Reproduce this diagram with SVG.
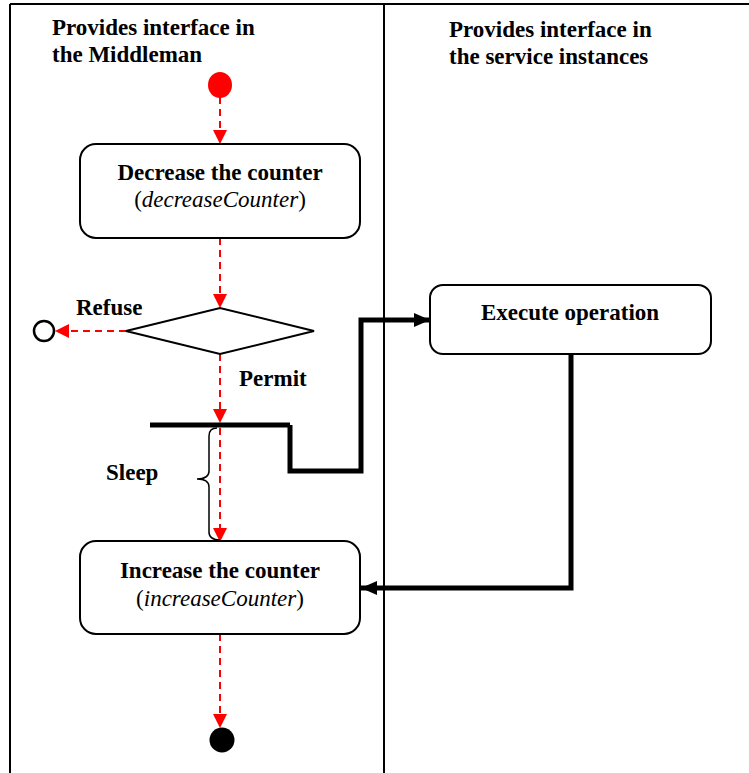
<svg xmlns="http://www.w3.org/2000/svg" width="749" height="773" viewBox="0 0 749 773">
  <style>
    .lane { stroke: #000; stroke-width: 2; fill: none; }
    .box { fill: #fff; stroke: #000; stroke-width: 2; }
    .t { font-family: "Liberation Serif", "Times New Roman", serif; font-size: 23px; fill: #000; }
    .b { font-weight: bold; }
    .i { font-style: italic; }
    .flow { stroke: #ff0000; stroke-width: 2; stroke-dasharray: 7 5; fill: none; }
    .sync { stroke: #000; stroke-width: 5; fill: none; }
  </style>
  <defs>
    <marker id="redArrow" markerWidth="14" markerHeight="14" refX="13" refY="7" orient="auto" markerUnits="userSpaceOnUse">
      <path d="M0,0 L14,7 L0,14 Z" fill="#ff0000"/>
    </marker>
    <marker id="blackArrow" markerWidth="16" markerHeight="14" refX="16" refY="7" orient="auto" markerUnits="userSpaceOnUse">
      <path d="M0,0 L16,7 L0,14 Z" fill="#000"/>
    </marker>
  </defs>

  <rect width="749" height="773" fill="#fff"/>

  <!-- swimlane frame -->
  <g id="lanes">
    <line class="lane" x1="10" y1="4" x2="749" y2="4"/>
    <line class="lane" x1="10" y1="4" x2="10" y2="773"/>
    <line class="lane" x1="384" y1="4" x2="384" y2="773"/>
    <text class="t b" x="52" y="35">Provides interface in</text>
    <text class="t b" x="52" y="62">the Middleman</text>
    <text class="t b" x="449" y="37">Provides interface in</text>
    <text class="t b" x="449" y="64">the service instances</text>
  </g>

  <!-- connectors -->
  <g id="connectors">
    <line class="flow" x1="220" y1="97" x2="220" y2="143" marker-end="url(#redArrow)"/>
    <line class="flow" x1="220" y1="238" x2="220" y2="307" marker-end="url(#redArrow)"/>
    <line class="flow" x1="126" y1="331" x2="56" y2="331" marker-end="url(#redArrow)"/>
    <line class="flow" x1="220" y1="354" x2="220" y2="422" marker-end="url(#redArrow)"/>
    <line class="flow" x1="220" y1="428" x2="220" y2="541" marker-end="url(#redArrow)"/>
    <line class="flow" x1="220" y1="634" x2="220" y2="727" marker-end="url(#redArrow)"/>
    <path class="sync" d="M290,425 L290,471 L361,471 L361,320 L430,320" marker-end="url(#blackArrow)"/>
    <path class="sync" d="M571,354 L571,588 L361,588" marker-end="url(#blackArrow)"/>
  </g>

  <g id="start">
    <ellipse cx="220" cy="85" rx="12" ry="13" fill="#ff0000"/>
  </g>

  <g id="decrease">
    <rect class="box" x="80" y="144" width="280" height="94" rx="16"/>
    <text class="t b" x="220" y="180" text-anchor="middle">Decrease the counter</text>
    <text class="t" x="220" y="207" text-anchor="middle">(<tspan class="i">decreaseCounter</tspan>)</text>
  </g>

  <g id="decision">
    <polygon points="126,331 220,308 314,331 220,354" fill="#fff" stroke="#000" stroke-width="2"/>
    <text class="t b" x="76" y="315">Refuse</text>
    <text class="t b" x="239" y="386">Permit</text>
  </g>

  <g id="refused">
    <circle cx="44" cy="331" r="10" fill="#fff" stroke="#000" stroke-width="2.5"/>
  </g>

  <g id="fork">
    <line class="sync" x1="150" y1="425" x2="290" y2="425" stroke-width="6"/>
    <path d="M217,428 Q209,428 209,436 L209,471 Q209,479 197,479 Q209,479 209,487 L209,532 Q209,540 220,540" fill="none" stroke="#000" stroke-width="1.5"/>
    <text class="t b" x="106" y="480">Sleep</text>
  </g>

  <g id="execute">
    <rect class="box" x="430" y="285" width="281" height="69" rx="13"/>
    <text class="t b" x="570" y="320" text-anchor="middle">Execute operation</text>
  </g>

  <g id="increase">
    <rect class="box" x="80" y="541" width="280" height="93" rx="16"/>
    <text class="t b" x="220" y="578" text-anchor="middle">Increase the counter</text>
    <text class="t" x="220" y="606" text-anchor="middle">(<tspan class="i">increaseCounter</tspan>)</text>
  </g>

  <g id="end">
    <circle cx="222" cy="740" r="12.5" fill="#000"/>
  </g>
</svg>
